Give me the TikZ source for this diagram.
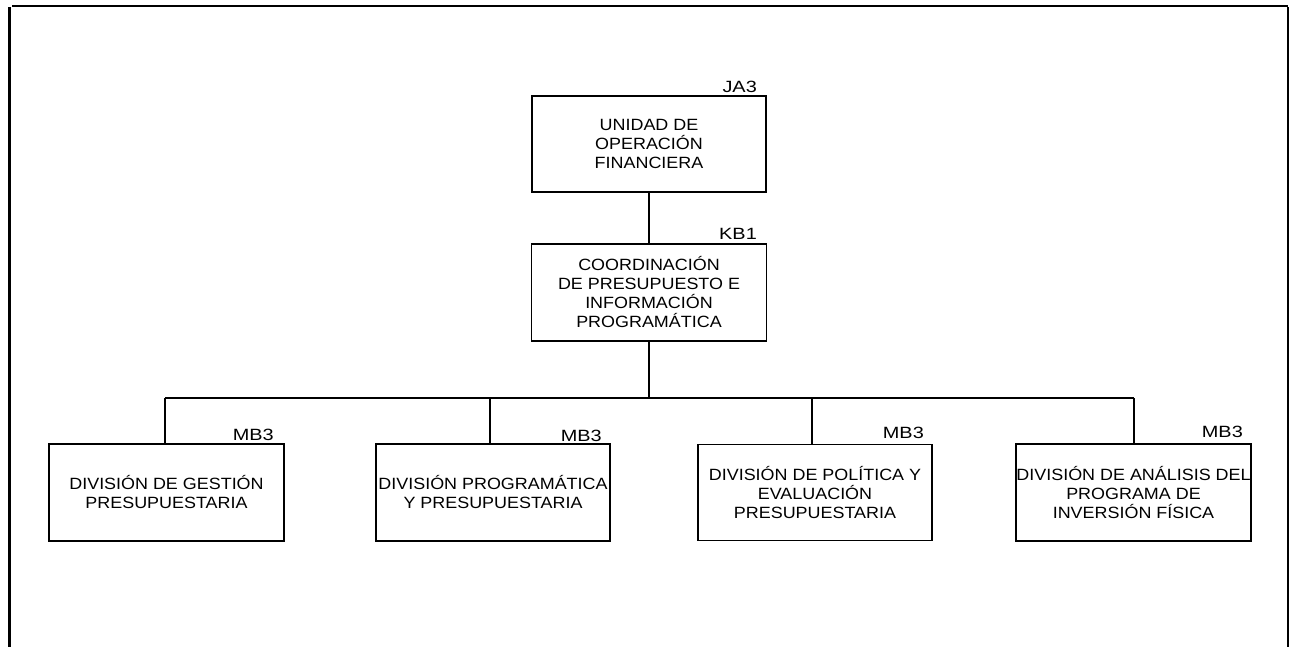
\documentclass[tikz,border=0pt]{standalone}
\usepackage{fontspec}
\setmainfont{Liberation Sans}
\newfontfamily\bodyfont[FakeStretch=1.1]{Liberation Sans}
\newfontfamily\labfont[FakeStretch=1.22]{Liberation Sans}
\begin{document}
\begin{tikzpicture}[x=1pt,y=-1pt,
  unitbox/.style={draw=black, line width=1.2pt, align=center, inner sep=0pt,
    font=\bodyfont\fontsize{16.3}{19}\selectfont},
  toplab/.style={anchor=base east, inner sep=0pt, font=\labfont\fontsize{16.3}{19}\selectfont},
  conn/.style={draw=black, line width=2pt},
  frameline/.style={draw=black, line width=2.5pt}]
\useasboundingbox (0,0) rectangle (1289,647);
% frame
\coordinate (ftl) at (12,6);
\coordinate (ftr) at (1288,6);
\coordinate (fl1) at (9.5,7.5);
\coordinate (fl2) at (9.5,647);
\coordinate (fr1) at (1287.8,7);
\coordinate (fr2) at (1287.8,647);
\draw[frameline] (ftl) -- (ftr);
\draw[frameline] (fl1) -- (fl2);
\draw[draw=black, line width=2pt] (fr1) -- (fr2);
% boxes
\node[unitbox, minimum width=234pt, minimum height=96pt] (b1) at (649,144)
  {UNIDAD DE\\OPERACIÓN\\FINANCIERA};
\node[unitbox, minimum width=235pt, minimum height=97pt] (b2) at (649,292.5)
  {COORDINACIÓN\\DE PRESUPUESTO E\\INFORMACIÓN\\PROGRAMÁTICA};
\node[unitbox, minimum width=235pt, minimum height=97pt] (dA) at (166.5,492.5)
  {DIVISIÓN DE GESTIÓN\\PRESUPUESTARIA};
\node[unitbox, minimum width=234pt, minimum height=97pt] (dB) at (493,492.5)
  {DIVISIÓN PROGRAMÁTICA\\Y PRESUPUESTARIA};
\node[unitbox, minimum width=234pt, minimum height=96pt] (dC) at (815,492.5)
  {DIVISIÓN DE POLÍTICA Y\\EVALUACIÓN\\PRESUPUESTARIA};
\node[unitbox, minimum width=235pt, minimum height=97pt] (dD) at (1133.5,492.5)
  {DIVISIÓN DE ANÁLISIS DEL\\PROGRAMA DE\\INVERSIÓN FÍSICA};
% labels
\node[toplab] (lb1) at (757,93) {JA3};
\node[toplab] (lb2) at (757,239) {KB1};
\node[toplab] (lA) at (274,440) {MB3};
\node[toplab] (lB) at (602,441) {MB3};
\node[toplab] (lC) at (924,438) {MB3};
\node[toplab] (lD) at (1243,437) {MB3};
% connectors
\coordinate (bus) at (649,398);
\coordinate (busA) at (165,398);
\coordinate (busB) at (490,398);
\coordinate (busC) at (812,398);
\coordinate (busD) at (1134,398);
\draw[conn] (b1.south) -- (b2.north);
\draw[conn] (b2.south) -- (bus);
\draw[conn] (busA) -- (busD);
\draw[conn] (busA) -- (busA |- dA.north);
\draw[conn] (busB) -- (busB |- dB.north);
\draw[conn] (busC) -- (busC |- dC.north);
\draw[conn] (busD) -- (busD |- dD.north);
\end{tikzpicture}
\end{document}
